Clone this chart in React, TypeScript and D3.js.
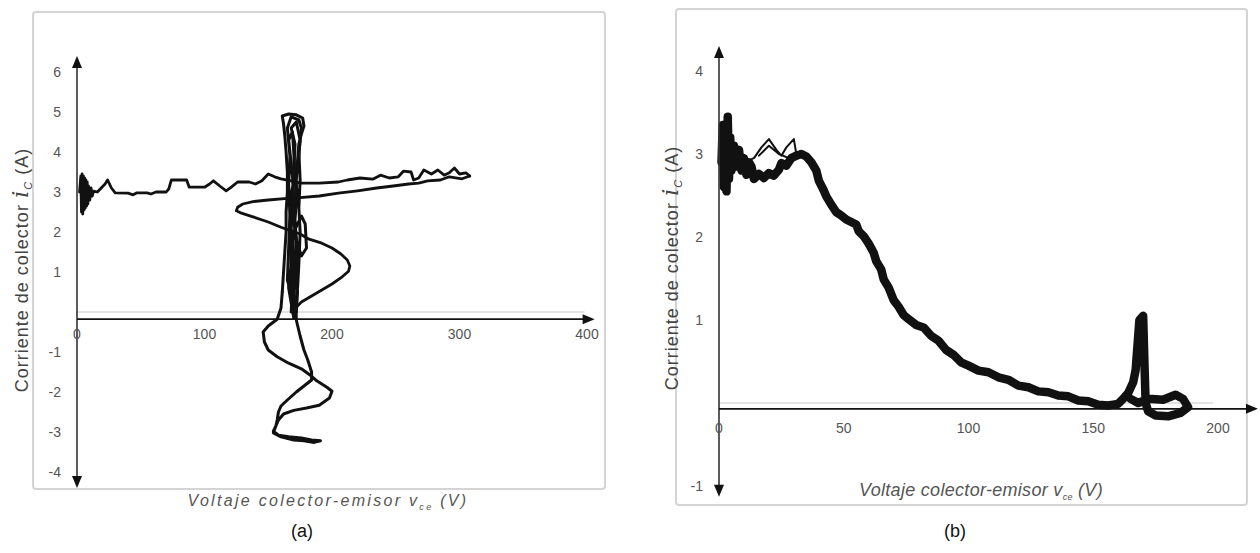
import React from 'react';
import * as d3 from 'd3';

// ---- panel (a) data: v_ce (V), i_C (A) ----
const xTicksA = [0, 100, 200, 300, 400];
const yTicksA = [6, 5, 4, 3, 2, 1, -1, -2, -3, -4];

const traceATop: [number, number][] = [
  [2, 3.0], [3, 3.4], [3.5, 2.5], [4, 3.45], [4.5, 2.45], [5, 3.4], [5.5, 2.55], [6, 3.35], [6.5, 2.6],
  [7, 3.3], [7.5, 2.65], [8, 3.25], [8.5, 2.7], [9, 3.15], [10, 2.8], [11, 3.1], [12, 2.9], [13, 3.02],
  [16, 3.0], [19, 3.1], [22, 3.2], [24, 3.3], [27, 3.1],
  [30, 2.98], [40, 2.97], [44, 2.93], [47, 2.98], [55, 2.98], [58, 2.95], [62, 3.0], [70, 3.0], [72, 3.08],
  [74, 3.3], [86, 3.3], [88, 3.12], [100, 3.12], [104, 3.2], [107, 3.28], [112, 3.15], [117, 3.03],
  [121, 3.12], [126, 3.25], [135, 3.25], [140, 3.2], [145, 3.28], [150, 3.45], [155, 3.38], [160, 3.33],
  [168, 3.28], [175, 3.22], [190, 3.22], [205, 3.25], [212, 3.3], [222, 3.35], [232, 3.32], [238, 3.42],
  [245, 3.35], [252, 3.38], [256, 3.52], [262, 3.5], [264, 3.3], [268, 3.35], [272, 3.55], [278, 3.45],
  [283, 3.55], [288, 3.42], [292, 3.48], [296, 3.6], [300, 3.45], [305, 3.48], [308, 3.4],
];

const traceAReturn: [number, number][] = [
  [308, 3.4], [302, 3.33], [292, 3.38], [285, 3.3], [275, 3.28], [268, 3.22], [260, 3.2], [248, 3.15],
  [235, 3.1], [220, 3.03], [205, 2.97], [190, 2.9], [175, 2.86], [165, 2.84], [150, 2.8], [138, 2.76],
  [130, 2.7], [126, 2.62], [125, 2.53], [129, 2.47], [138, 2.38], [150, 2.25], [160, 2.12], [168, 2.03],
  [175, 1.95], [182, 1.82], [192, 1.72], [200, 1.6], [207, 1.45], [212, 1.3], [214, 1.15], [213, 1.02],
  [208, 0.88], [200, 0.7], [192, 0.55], [184, 0.4], [176, 0.25], [172, 0.12], [172, -0.2],
];

const traceALower: [number, number][] = [
  [172, -0.2], [175, -0.6], [178, -0.95], [181, -1.2], [184, -1.5], [184, -1.7], [178, -1.85], [172, -2.0],
  [165, -2.2], [160, -2.35], [158, -2.5], [157, -2.7], [156, -2.85], [154, -2.98], [158, -3.08], [166, -3.12],
  [176, -3.15], [184, -3.2], [191, -3.22], [186, -3.26], [178, -3.22], [170, -3.2], [160, -3.12], [154, -3.02],
  [156, -2.85], [158, -2.7], [162, -2.55], [170, -2.46], [180, -2.4], [190, -2.33], [198, -2.15], [200, -1.98],
  [196, -1.88], [188, -1.72], [183, -1.58], [176, -1.42], [166, -1.28], [157, -1.12], [150, -0.95], [147, -0.75],
  [146, -0.5], [150, -0.35], [157, -0.18], [160, 0.1], [161, 0.5],
];

const traceAVertical: [number, number][] = [
  [161, 0.5], [162, 1.0], [163, 1.5], [164, 2.0], [164, 2.5], [165, 3.0], [165, 3.5], [164, 4.0], [163, 4.4],
  [162, 4.7], [161, 4.9], [166, 4.95], [172, 4.93], [177, 4.85], [178, 4.65], [176, 4.45], [174, 4.2],
  [173, 3.8], [172, 3.3], [172, 2.8], [171, 2.3], [172, 1.8], [171, 1.3], [171, 0.8], [170, 0.3], [170, -0.15],
  [166, 0.6], [168, 1.2], [170, 2.0], [176, 2.4], [179, 2.2], [180, 1.6], [176, 1.4], [172, 1.8], [169, 2.6],
  [170, 3.5], [171, 4.2], [168, 4.6], [172, 4.75], [175, 4.3], [173, 3.5], [168, 3.0], [167, 2.2], [168, 1.0],
  [167, 0.4],
];

const traceAVertical2: [number, number][] = [
  [168, 0.0], [169, 0.7], [170, 1.4], [168, 2.1], [170, 2.8], [169, 3.4], [167, 4.0], [166, 4.3], [169, 4.5],
  [170, 4.0], [171, 3.4], [173, 2.9], [170, 2.3], [173, 1.6], [172, 1.0], [173, 0.5], [172, 0.0],
  [165, 0.8], [166, 1.6], [167, 2.4], [166, 3.2], [167, 3.9], [165, 4.6], [168, 4.88], [174, 4.8],
  [176, 4.6], [174, 4.0], [175, 3.3], [174, 2.6], [175, 2.0], [174, 1.2], [173, 0.6], [171, 0.1],
];

// ---- panel (b) data ----
const xTicksB = [0, 50, 100, 150, 200];
const yTicksB = [4, 3, 2, 1, -1];

const traceBMain: [number, number][] = [
  [1, 2.9], [1.5, 3.35], [2, 2.6], [2.5, 3.3], [3, 2.55], [3.5, 3.45], [4, 2.7], [4.5, 3.2], [5, 2.8],
  [6, 3.1], [7, 2.85], [8, 3.05], [9, 2.8], [10, 2.95], [11, 2.75], [12, 2.9], [13, 2.85], [14, 2.7],
  [16, 2.76], [18, 2.71], [20, 2.77], [22, 2.74], [24, 2.81], [25, 2.89], [27, 2.86], [29, 2.95], [31, 2.98],
  [33, 3.0], [35, 2.97], [37, 2.9], [39, 2.8], [40, 2.68], [42, 2.56], [43, 2.49], [45, 2.39], [47, 2.3],
  [49, 2.26], [51, 2.21], [53, 2.18], [55, 2.15], [56, 2.07], [58, 2.01], [60, 1.92], [62, 1.81], [63, 1.71],
  [65, 1.61], [66, 1.49], [68, 1.39], [70, 1.24], [72, 1.16], [74, 1.06], [76, 1.01], [79, 0.94], [82, 0.91],
  [85, 0.81], [88, 0.75], [91, 0.64], [94, 0.58], [97, 0.49], [100, 0.45], [104, 0.39], [108, 0.37],
  [112, 0.31], [116, 0.28], [120, 0.21], [124, 0.19], [128, 0.14], [132, 0.13], [136, 0.09], [140, 0.08],
  [144, 0.03], [148, 0.02], [152, -0.02], [156, -0.03], [160, -0.01], [162, 0.05], [164, 0.12], [166, 0.25],
  [167, 0.4], [168, 0.8], [168.5, 1.0], [170, 1.05], [170.5, 0.5], [171, 0.0], [172, -0.1], [175, -0.15],
  [180, -0.16], [185, -0.12], [188, -0.05], [186, 0.05], [183, 0.1], [178, 0.04], [172, 0.05], [168, 0.0],
  [165, 0.05],
];

const traceBUpper: [number, number][] = [
  [10, 2.9], [14, 2.95], [17, 3.08], [20, 3.18], [23, 3.05], [25, 2.98], [27, 3.08], [30, 3.18], [31, 3.0],
  [28, 2.95], [24, 3.0], [20, 3.1], [16, 2.98],
];

const FONT = "'Liberation Sans', Arial, sans-serif";
const GREY_TEXT = '#555';

type PanelProps = {
  frame: { x: number; y: number; w: number; h: number };
  x: d3.ScaleLinear<number, number>;
  y: d3.ScaleLinear<number, number>;
  xTicks: number[];
  yTicks: number[];
  yTop: number;
  yBottom: number;
  xEnd: number;
  zeroEnd: number;
  axisCross: number;
  traces: { pts: [number, number][]; w: number }[];
  yLabelX: number;
  xLabelY: number;
  yTitle: { x: number; y: number; size: number; spacing: number };
  xTitle: { x: number; y: number; size: number; spacing: number };
  caption: { x: number; y: number; text: string };
};

const Panel = (p: PanelProps) => {
  const line = d3.line<[number, number]>()
    .x(d => p.x(d[0]))
    .y(d => p.y(d[1]));
  const x0 = p.x(0);
  const yTopPx = p.y(p.yTop);
  const yBotPx = p.y(p.yBottom);
  const axY = p.y(p.axisCross);
  const xEndPx = p.x(p.xEnd);

  return (
    <g>
      <rect x={p.frame.x} y={p.frame.y} width={p.frame.w} height={p.frame.h} rx={3}
        fill="#fff" stroke="#d4d4d4" strokeWidth={2} />
      {/* zero line */}
      <line x1={x0} x2={p.x(p.zeroEnd)} y1={p.y(0)} y2={p.y(0)} stroke="#c8c8c8" strokeWidth={1.2} />
      {/* traces */}
      {p.traces.map((t, i) => (
        <path key={i} d={line(t.pts) || ''} fill="none" stroke="#111" strokeWidth={t.w}
          strokeLinejoin="round" strokeLinecap="round" />
      ))}
      {/* y axis with arrows */}
      <line x1={x0} x2={x0} y1={yTopPx + 8} y2={yBotPx - 8} stroke="#333" strokeWidth={1.6} />
      <path d={`M${x0},${yTopPx} L${x0 - 5},${yTopPx + 12} L${x0 + 5},${yTopPx + 12} Z`} fill="#111" />
      <path d={`M${x0},${yBotPx} L${x0 - 5},${yBotPx - 12} L${x0 + 5},${yBotPx - 12} Z`} fill="#111" />
      {/* x axis with arrow */}
      <line x1={x0} x2={xEndPx - 8} y1={axY} y2={axY} stroke="#111" strokeWidth={1.8} />
      <path d={`M${xEndPx},${axY} L${xEndPx - 12},${axY - 5} L${xEndPx - 12},${axY + 5} Z`} fill="#111" />
      {/* tick labels */}
      {p.yTicks.map(t => (
        <text key={'y' + t} x={p.yLabelX} y={p.y(t)} dy="0.35em" textAnchor="end"
          fontFamily={FONT} fontSize={14} fill={GREY_TEXT}>{t}</text>
      ))}
      {p.xTicks.map(t => (
        <text key={'x' + t} x={p.x(t)} y={p.xLabelY} dy="0.35em" textAnchor="middle"
          fontFamily={FONT} fontSize={14} fill={GREY_TEXT}>{t}</text>
      ))}
      {/* y title */}
      <text transform={`translate(${p.yTitle.x},${p.yTitle.y}) rotate(-90)`} textAnchor="middle"
        fontFamily={FONT} fontSize={p.yTitle.size} letterSpacing={p.yTitle.spacing} fill="#444" dy="0.35em">
        Corriente de colector{' '}
        <tspan fontFamily="'DejaVu Serif', serif" fontStyle="italic" fontSize={p.yTitle.size + 5}>i</tspan>
        <tspan fontStyle="italic" fontSize={11} dy={4}>C</tspan>
        <tspan dy={-4}> (A)</tspan>
      </text>
      {/* x title */}
      <text x={p.xTitle.x} y={p.xTitle.y} dy="0.35em" textAnchor="middle" fontFamily={FONT}
        fontStyle="italic" fontSize={p.xTitle.size} letterSpacing={p.xTitle.spacing} fill="#555">
        Voltaje colector-emisor v
        <tspan fontSize={9} dy={4}>ce</tspan>
        <tspan dy={-4}> (V)</tspan>
      </text>
      <text x={p.caption.x} y={p.caption.y} dy="0.35em" textAnchor="middle" fontFamily={FONT}
        fontSize={18} fill="#111">{p.caption.text}</text>
    </g>
  );
};

const App = () => {
  const xA = d3.scaleLinear().domain([0, 400]).range([77, 587]);
  const yA = d3.scaleLinear().domain([-4, 6]).range([472, 72]);
  const xB = d3.scaleLinear().domain([0, 200]).range([719, 1218]);
  const yB = d3.scaleLinear().domain([-1, 4]).range([486, 71]);

  return (
    <svg width={1260} height={553} style={{ position: 'absolute', left: 0, top: 0, background: '#fff' }}>
      <Panel
        frame={{ x: 33, y: 12, w: 572, h: 477 }}
        x={xA} y={yA} xTicks={xTicksA} yTicks={yTicksA}
        yTop={6.4} yBottom={-4.4} xEnd={406} zeroEnd={398} axisCross={-0.18}
        traces={[
          { pts: traceATop, w: 2.8 },
          { pts: traceAReturn, w: 2.8 },
          { pts: traceALower, w: 3 },
          { pts: traceAVertical, w: 3 },
          { pts: traceAVertical2, w: 3 },
        ]}
        yLabelX={61} xLabelY={334}
        yTitle={{ x: 22, y: 270, size: 18, spacing: 1 }}
        xTitle={{ x: 328, y: 500, size: 16, spacing: 2.3 }}
        caption={{ x: 302, y: 531, text: '(a)' }}
      />
      <Panel
        frame={{ x: 676, y: 9, w: 571, h: 496 }}
        x={xB} y={yB} xTicks={xTicksB} yTicks={yTicksB}
        yTop={4.3} yBottom={-1.13} xEnd={216} zeroEnd={198} axisCross={-0.07}
        traces={[
          { pts: traceBMain, w: 8.5 },
          { pts: traceBUpper, w: 2 },
        ]}
        yLabelX={703} xLabelY={428}
        yTitle={{ x: 672, y: 268, size: 18, spacing: 1 }}
        xTitle={{ x: 981, y: 490, size: 18, spacing: 0.3 }}
        caption={{ x: 955, y: 531, text: '(b)' }}
      />
    </svg>
  );
};

export default App;
